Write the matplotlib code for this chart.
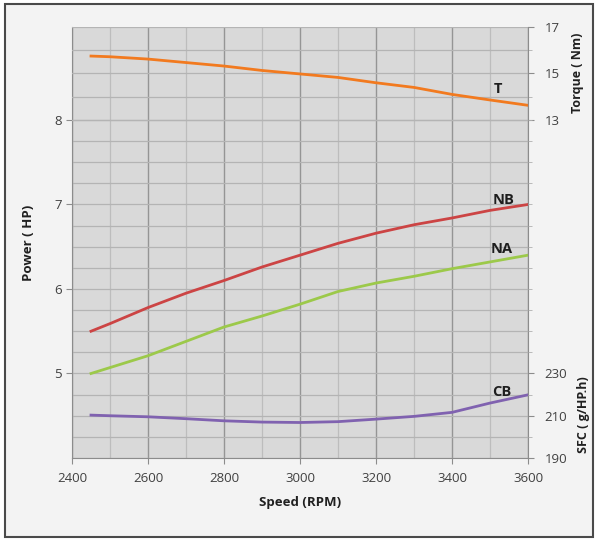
import matplotlib.pyplot as plt
import numpy as np
from matplotlib.patches import Rectangle
from matplotlib.ticker import MultipleLocator, FixedLocator

plt.rcParams['font.family'] = ['Open Sans', 'DejaVu Sans']

#########################
# engine performance curves
speed = [2450, 2500, 2600, 2700, 2800, 2900, 3000, 3100, 3200, 3300, 3400, 3500, 3600]
torque_T = [15.75, 15.72, 15.62, 15.47, 15.32, 15.13, 14.98, 14.83, 14.60, 14.40, 14.10, 13.86, 13.63]
power_NB = [5.50, 5.59, 5.78, 5.95, 6.10, 6.26, 6.40, 6.54, 6.66, 6.76, 6.84, 6.93, 7.00]
power_NA = [5.00, 5.07, 5.21, 5.38, 5.55, 5.68, 5.82, 5.97, 6.07, 6.15, 6.24, 6.32, 6.40]
sfc_CB = [210.3, 210.0, 209.5, 208.6, 207.6, 207.0, 206.8, 207.2, 208.4, 209.7, 211.6, 216.0, 219.9]

x_ticks = [2400, 2600, 2800, 3000, 3200, 3400, 3600]
power_ticks = [5, 6, 7, 8]
torque_ticks = [13, 15, 17]
sfc_ticks = [190, 210, 230]

c_T = '#F27A1F'
c_NB = '#CC4444'
c_NA = '#9CC94A'
c_CB = '#8062B0'
txt = '#404040'
spine_c = '#8c8c8c'
hgrid = '#b4b4b4'

# axis ranges: power 4..9.1, torque 13 sits on power 8, sfc 190/230 on power 4/5
p_lo, p_hi = 4.0, 9.1
t_per_hp = 4 / (p_hi - 8)
s_per_hp = 40

fig = plt.figure(figsize=(5.97, 5.4), dpi=100)
fig.patch.set_facecolor('white')
frame = Rectangle((5/597, 3/540), 588/597, 533/540, transform=fig.transFigure,
                  facecolor='#F3F3F3', edgecolor='#4a4a4a', linewidth=1.5, zorder=-10)
fig.patches.append(frame)

ax = fig.add_axes([72/597, 82/540, 456/597, 431/540])
ax.set_facecolor('#D9D9D9')
ax.set_xlim(2400, 3600)
ax.set_ylim(p_lo, p_hi)
ax.set_xticks(x_ticks)
ax.xaxis.set_minor_locator(MultipleLocator(100))
ax.set_yticks(power_ticks)
ax.yaxis.set_minor_locator(FixedLocator(np.arange(4, 8.01, 0.25)))
ax.grid(which='major', axis='x', color='#959595', linewidth=1.0)
ax.grid(which='minor', axis='x', color='#bdbdbd', linewidth=0.9)
ax.grid(which='both', axis='y', color=hgrid, linewidth=0.9)
ax.set_axisbelow(True)
ax.tick_params(axis='both', which='major', colors=spine_c, labelcolor=txt, labelsize=9.5, length=4, width=0.8)
ax.tick_params(axis='x', which='major', pad=6)
ax.tick_params(axis='both', which='minor', length=0)
for s in ['top', 'right']:
    ax.spines[s].set_visible(False)
for s in ['left', 'bottom']:
    ax.spines[s].set_color(spine_c)

ax.plot(speed, power_NB, color=c_NB, linewidth=2)
ax.plot(speed, power_NA, color=c_NA, linewidth=2)

ax.set_xlabel('Speed (RPM)', fontsize=9.5, fontweight='bold', color='#202020', labelpad=8)
ax.set_ylabel('Power ( HP)', fontsize=9.5, fontweight='bold', color='#202020', labelpad=14)

# torque axis (right, upper)
ax2 = ax.twinx()
ax2.set_ylim(13 - (8 - p_lo) * t_per_hp, 17)
ax2.set_yticks(torque_ticks)
ax2.yaxis.set_minor_locator(FixedLocator([14, 16]))
ax2.grid(which='both', axis='y', color=hgrid, linewidth=0.9)
ax2.set_axisbelow(True)
ax2.plot(speed, torque_T, color=c_T, linewidth=2)
ax2.tick_params(axis='y', which='major', colors=spine_c, labelcolor=txt, labelsize=9.5, length=4, width=0.8, pad=8)
ax2.tick_params(axis='y', which='minor', length=3, color='#b0b0b0')
for s in ['top', 'left', 'bottom']:
    ax2.spines[s].set_visible(False)
ax2.spines['right'].set_color(spine_c)

# sfc axis (right, lower)
ax3 = ax.twinx()
ax3.set_ylim(190, 190 + (p_hi - p_lo) * s_per_hp)
ax3.set_yticks(sfc_ticks)
ax3.yaxis.set_minor_locator(FixedLocator(np.arange(190, 351, 10)))
ax3.plot(speed, sfc_CB, color=c_CB, linewidth=2)
ax3.tick_params(axis='y', which='major', colors=spine_c, labelcolor=txt, labelsize=9.5, length=4, width=0.8, pad=8)
ax3.tick_params(axis='y', which='minor', length=3, color='#b0b0b0')
for s in ['top', 'left', 'bottom', 'right']:
    ax3.spines[s].set_visible(False)

# curve labels
lab = dict(fontsize=10.5, fontweight='bold', color='#1e1e1e', ha='center', va='center')
ax2.text(3520, torque_T[-1] + 0.72, 'T', **lab)
ax.text(3535, power_NB[-1] + 0.05, 'NB', **lab)
ax.text(3532, power_NA[-1] + 0.07, 'NA', **lab)
ax3.text(3532, sfc_CB[-1] + 1.5, 'CB', **lab)

fig.text(577/597, 1 - 73/540, 'Torque ( Nm)', rotation=90, fontsize=9, fontweight='bold',
         color='#202020', ha='center', va='center')
fig.text(584/597, 1 - 415/540, 'SFC ( g/HP.h)', rotation=90, fontsize=9, fontweight='bold',
         color='#202020', ha='center', va='center')

fig.savefig('out.png', dpi=100, facecolor=fig.get_facecolor())
